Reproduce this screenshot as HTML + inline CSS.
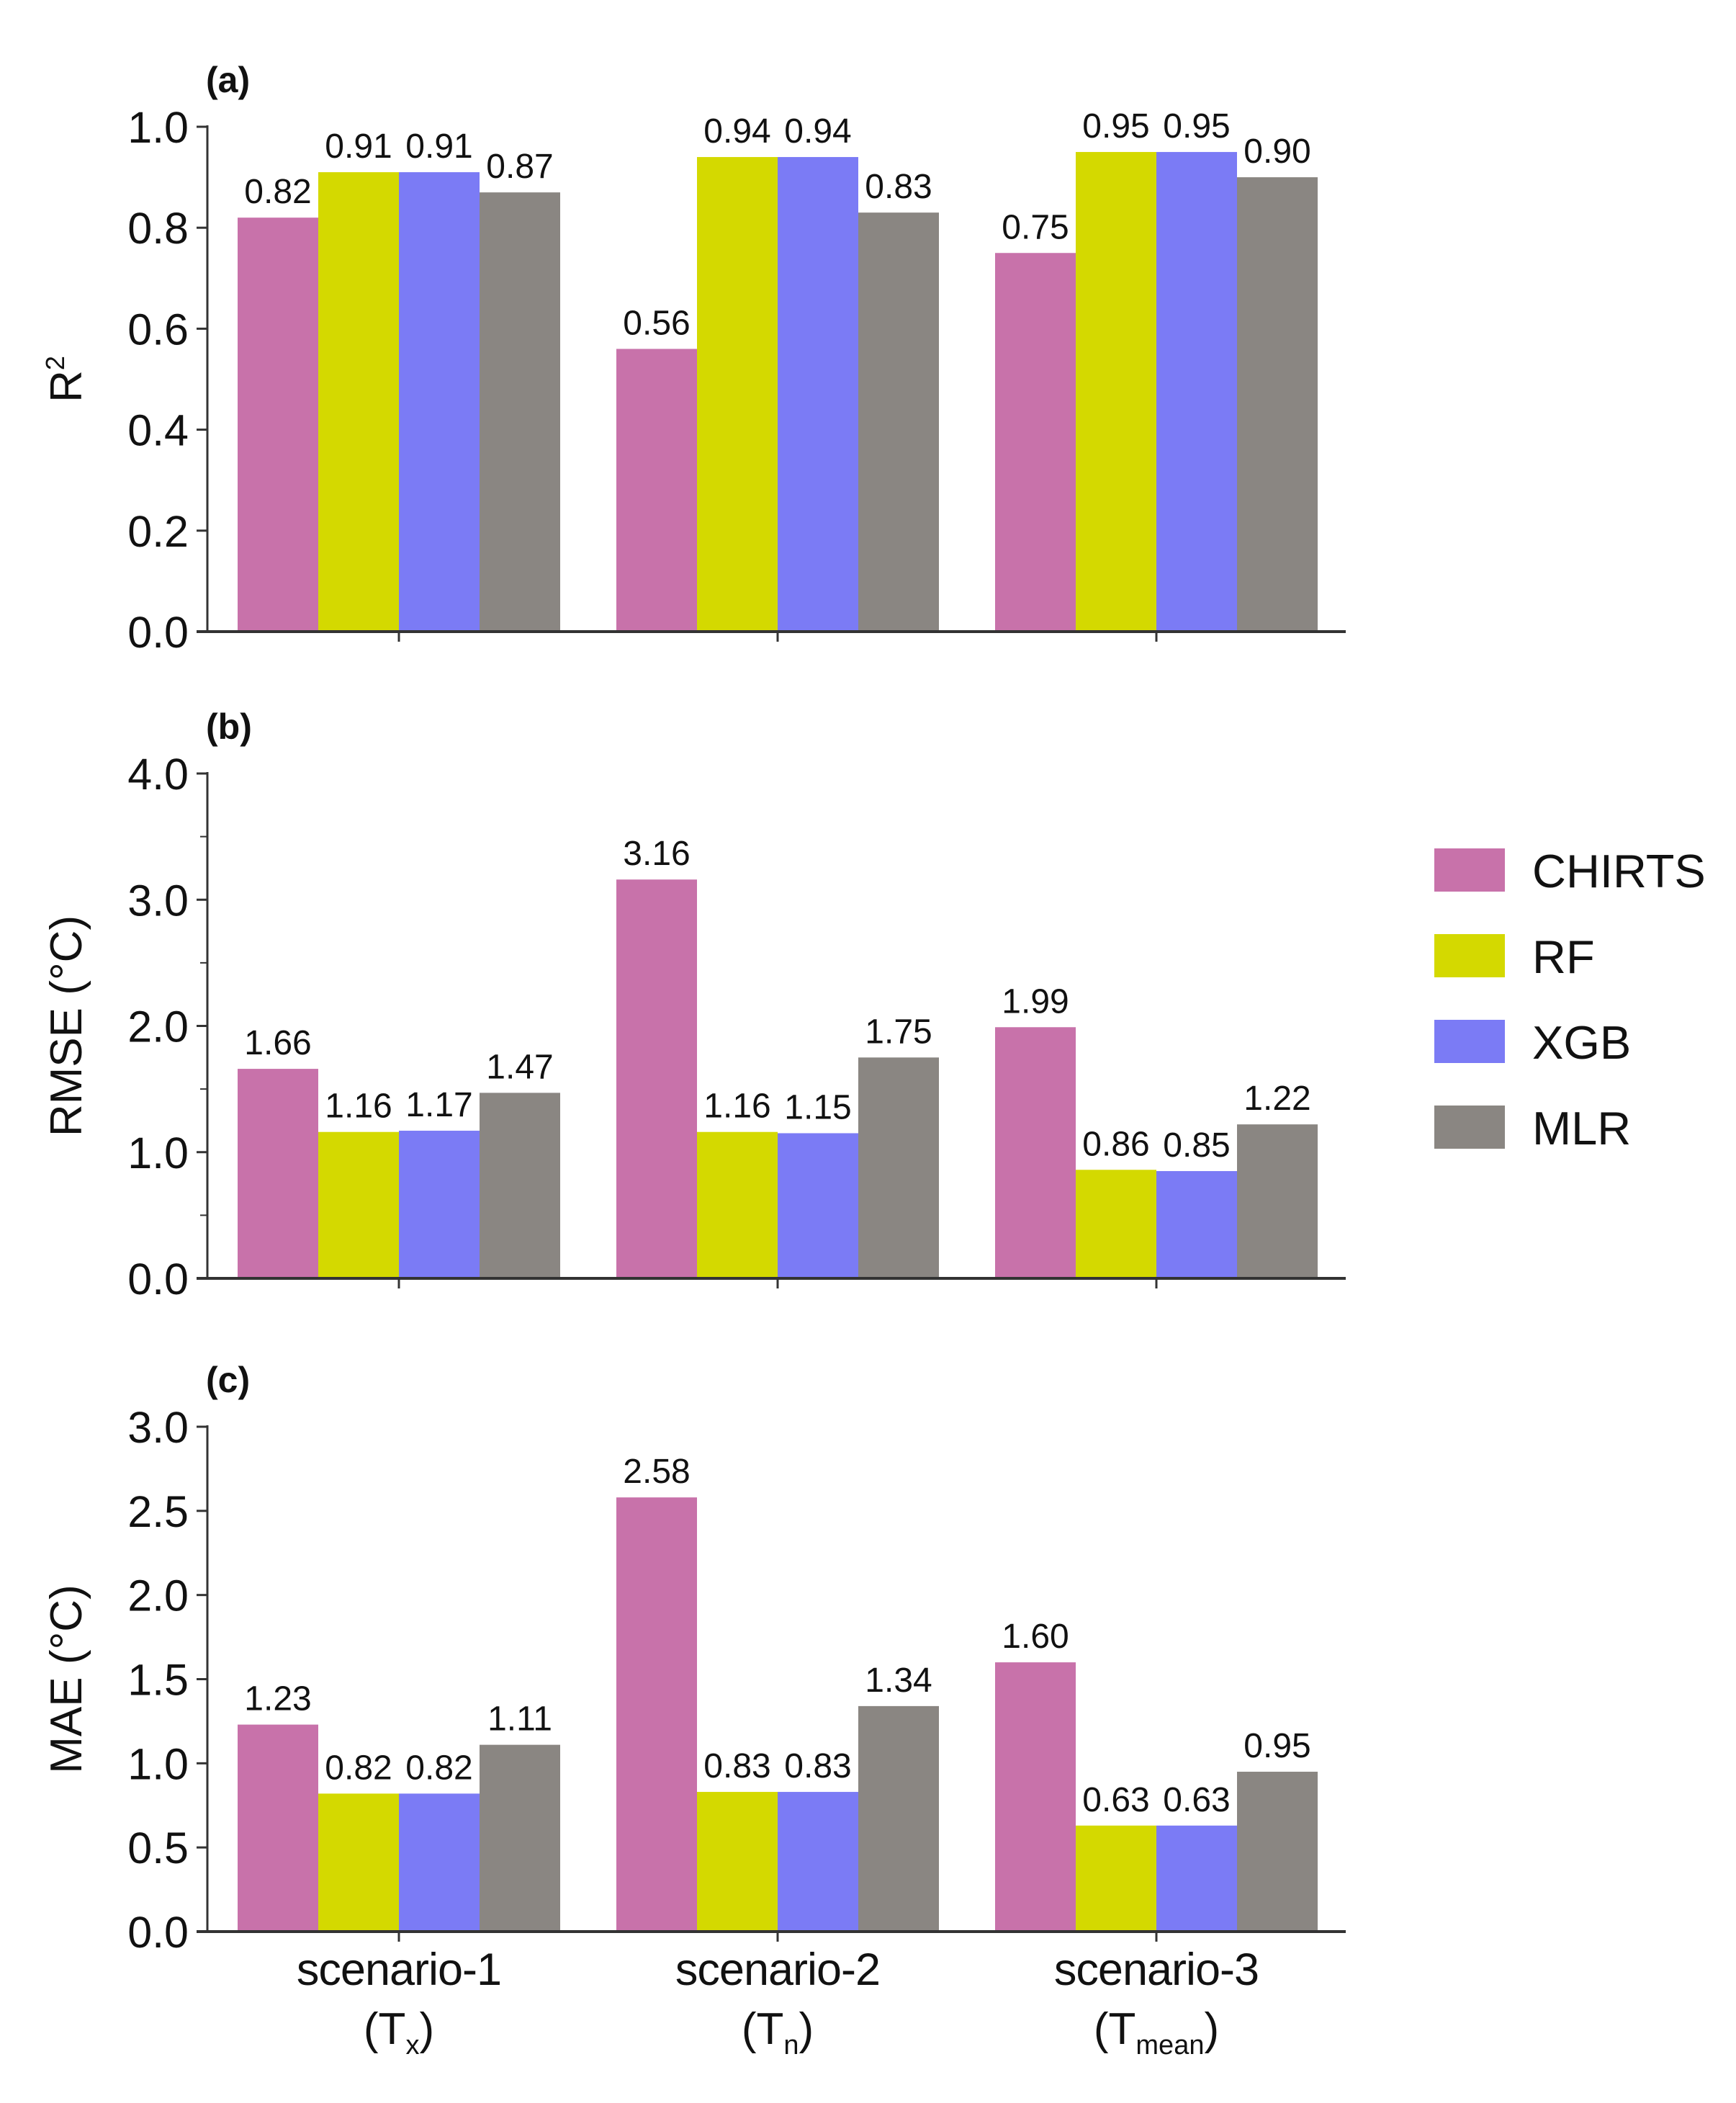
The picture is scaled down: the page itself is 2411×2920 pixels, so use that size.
<!DOCTYPE html>
<html><head><meta charset="utf-8"><style>
html,body{margin:0;padding:0;background:#fff}
svg{display:block}
text{font-family:"Liberation Sans",Arial,sans-serif;fill:#111}
</style></head><body>
<svg id="chart" width="2411" height="2920" viewBox="0 0 2411 2920" xmlns="http://www.w3.org/2000/svg"></svg>
<script>
const categories = ["scenario-1","scenario-2","scenario-3"];
const catSubs = ["x","n","mean"];
const seriesNames = ["CHIRTS","RF","XGB","MLR"];
const seriesColors = ["#c872aa","#d4d900","#7b7bf5","#8a8682"];
const r2Values = [[0.82,0.56,0.75],[0.91,0.94,0.95],[0.91,0.94,0.95],[0.87,0.83,0.90]];
const r2Labels = [["0.82","0.56","0.75"],["0.91","0.94","0.95"],["0.91","0.94","0.95"],["0.87","0.83","0.90"]];
const rmseValues = [[1.66,3.16,1.99],[1.16,1.16,0.86],[1.17,1.15,0.85],[1.47,1.75,1.22]];
const rmseLabels = [["1.66","3.16","1.99"],["1.16","1.16","0.86"],["1.17","1.15","0.85"],["1.47","1.75","1.22"]];
const maeValues = [[1.23,2.58,1.60],[0.82,0.83,0.63],[0.82,0.83,0.63],[1.11,1.34,0.95]];
const maeLabels = [["1.23","2.58","1.60"],["0.82","0.83","0.63"],["0.82","0.83","0.63"],["1.11","1.34","0.95"]];
const r2Ticks = [0,0.2,0.4,0.6,0.8,1.0];
const rmseTicks = [0,1,2,3,4];
const rmseMinor = [0.5,1.5,2.5,3.5];
const maeTicks = [0,0.5,1.0,1.5,2.0,2.5,3.0];

const svg = document.getElementById('chart');
const NS = "http://www.w3.org/2000/svg";
function el(tag, attrs, parent){const e=document.createElementNS(NS,tag);for(const k in attrs)e.setAttribute(k,attrs[k]);(parent||svg).appendChild(e);return e;}

const AX0 = 288, AX1 = 1869, BW = 112;
function xCenter(i){return 554 + 526*i;}

function panel(cfg){
  const g = el('g',{});
  
  
  const y = v => cfg.bottom - (v - 0)/(cfg.max) * (cfg.bottom - cfg.top);
  cfg.values.forEach((ser, s) => {
    ser.forEach((v, c) => {
      const x = xCenter(c) - 2*BW + s*BW;
      const r = el('rect',{x:x,y:y(v),width:BW,height:cfg.bottom - y(v),fill:seriesColors[s]},g);
      
      
      const t = el('text',{x:x+BW/2,y:y(v)-20,'font-size':48,'text-anchor':'middle'},g);
      t.textContent = cfg.labels[s][c];
      
      
    });
  });
  el('line',{x1:AX0,y1:cfg.top-2,x2:AX0,y2:cfg.bottom,stroke:'#333','stroke-width':3},g);
  el('line',{x1:AX0-15,y1:cfg.bottom,x2:AX1,y2:cfg.bottom,stroke:'#333','stroke-width':4},g);
  cfg.ticks.forEach(v => {
    el('line',{x1:AX0-15,y1:y(v),x2:AX0,y2:y(v),stroke:'#333','stroke-width':3},g);
    const t = el('text',{x:AX0-26,y:y(v)+22,'font-size':61,'text-anchor':'end'},g);
    t.textContent = v.toFixed(1);
    
    
  });
  (cfg.minor||[]).forEach(v => {
    el('line',{x1:AX0-10,y1:y(v),x2:AX0,y2:y(v),stroke:'#333','stroke-width':2},g);
  });
  categories.forEach((c,i) => {
    el('line',{x1:xCenter(i),y1:cfg.bottom,x2:xCenter(i),y2:cfg.bottom+14,stroke:'#333','stroke-width':3},g);
  });
  const pl = el('text',{x:AX0-2,y:cfg.top-48,'font-size':50,'font-weight':'bold'},g);
  pl.textContent = cfg.letter;
  
  
  const yc = (cfg.top+cfg.bottom)/2;
  const yt = el('text',{x:0,y:0,'font-size':62,'text-anchor':'middle',transform:'translate(113,'+yc+') rotate(-90)'},g);
  yt.innerHTML = cfg.title;
  
  
}

panel({name:'panel-r2',letter:'(a)',top:176,bottom:877,max:1.0,values:r2Values,labels:r2Labels,ticks:r2Ticks,
  title:'R<tspan font-size="36" dy="-24">2</tspan>'});
panel({name:'panel-rmse',letter:'(b)',top:1074,bottom:1775,max:4.0,values:rmseValues,labels:rmseLabels,ticks:rmseTicks,minor:rmseMinor,
  title:'RMSE (°C)'});
panel({name:'panel-mae',letter:'(c)',top:1981,bottom:2682,max:3.0,values:maeValues,labels:maeLabels,ticks:maeTicks,
  title:'MAE (°C)'});

categories.forEach((c,i) => {
  const t = el('text',{x:xCenter(i),y:2756,'font-size':63,'text-anchor':'middle','letter-spacing':'-1'});
  t.textContent = c;
  
  
  const t2 = el('text',{x:xCenter(i),y:2838,'font-size':62,'text-anchor':'middle'});
  t2.innerHTML = '(T<tspan font-size="38" dy="14">' + catSubs[i] + '</tspan><tspan dy="-14">)</tspan>';
  
  
});

seriesNames.forEach((n,i) => {
  const g = el('g',{});
  
  
  const yy = 1178 + i*119;
  el('rect',{x:1992,y:yy,width:98,height:60,fill:seriesColors[i]},g);
  const t = el('text',{x:2128,y:yy+54,'font-size':65},g);
  t.textContent = n;
});
</script>
</body></html>
